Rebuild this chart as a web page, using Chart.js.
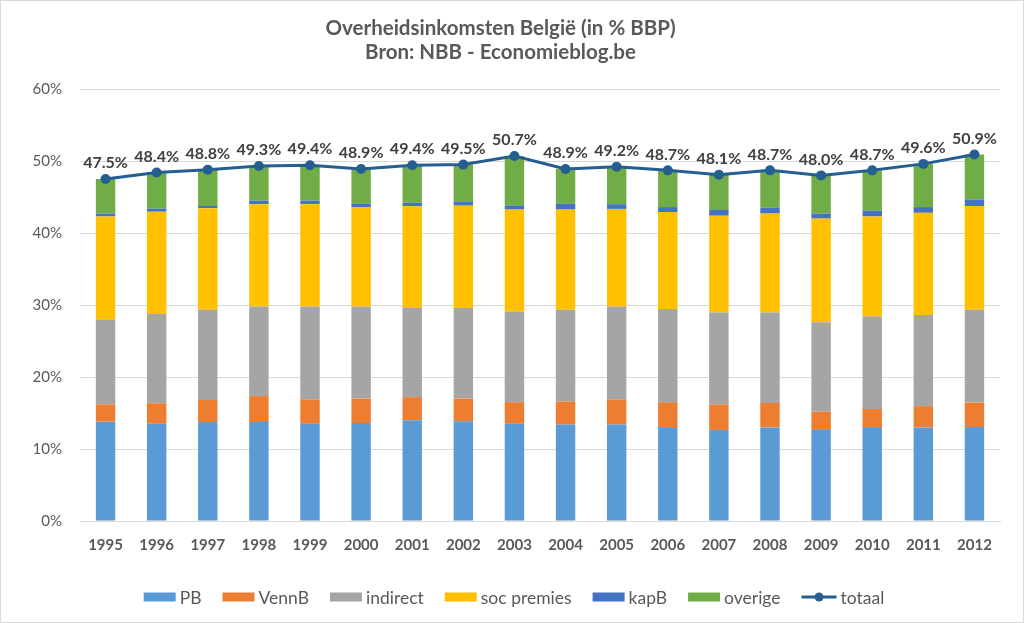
<!DOCTYPE html>
<html>
<head>
<meta charset="utf-8">
<script src="https://cdn.jsdelivr.net/npm/chart.js@4.4.1/dist/chart.umd.min.js"></script>
<style>
    html, body { margin: 0; padding: 0; background: #fff; }
    #wrap {
        position: relative;
        width: 1022px;
        height: 621px;
        border: 1px solid #d9d9d9;
    }
</style>
</head>
<body>
<div id="wrap"><canvas id="overheidChart" width="1022" height="621"></canvas></div>
<script>
// ========================================
// データ (% BBP)
// ========================================

const years = ['1995', '1996', '1997', '1998', '1999', '2000', '2001', '2002', '2003',
    '2004', '2005', '2006', '2007', '2008', '2009', '2010', '2011', '2012'];

const pb         = [13.8, 13.5, 13.75, 13.75, 13.5, 13.6, 14.0, 13.85, 13.5, 13.4, 13.4, 12.9, 12.65, 13.0, 12.65, 12.9, 13.0, 13.05];
const vennB      = [2.4, 2.85, 3.05, 3.6, 3.4, 3.4, 3.2, 3.15, 3.0, 3.2, 3.5, 3.6, 3.55, 3.4, 2.55, 2.65, 2.95, 3.4];
const indirect   = [11.8, 12.4, 12.55, 12.45, 12.9, 12.8, 12.4, 12.6, 12.6, 12.75, 12.9, 12.95, 12.75, 12.55, 12.4, 12.85, 12.65, 12.9];
const socPremies = [14.3, 14.2, 14.1, 14.2, 14.2, 13.8, 14.1, 14.2, 14.15, 13.9, 13.55, 13.45, 13.45, 13.75, 14.4, 13.9, 14.2, 14.4];
const kapB       = [0.4, 0.45, 0.3, 0.5, 0.5, 0.5, 0.5, 0.5, 0.55, 0.8, 0.65, 0.7, 0.8, 0.8, 0.7, 0.8, 0.8, 0.9];
const overige    = [4.8, 5.0, 5.05, 4.8, 4.9, 4.8, 5.2, 5.2, 6.9, 4.85, 5.2, 5.1, 4.9, 5.2, 5.3, 5.6, 6.0, 6.25];
const totaal     = [47.5, 48.4, 48.8, 49.3, 49.4, 48.9, 49.4, 49.5, 50.7, 48.9, 49.2, 48.7, 48.1, 48.7, 48.0, 48.7, 49.6, 50.9];

const yTicks = [0, 10, 20, 30, 40, 50, 60];

const FONT = 'Lato, "Open Sans", sans-serif';
const TEXT_GRAY = '#595959';

// ========================================
// プラグイン
// ========================================

// 折れ線のデータラベル
const totaalLabels = {
    id: 'totaalLabels',
    afterDatasetsDraw(chart) {
        const ctx = chart.ctx;
        chart.data.datasets.forEach((ds, i) => {
            if (ds.type !== 'line') return;
            const meta = chart.getDatasetMeta(i);
            ctx.save();
            ctx.font = 'bold 16px ' + FONT;
            ctx.fillStyle = '#404040';
            ctx.textAlign = 'center';
            ctx.textBaseline = 'middle';
            meta.data.forEach((pt, j) => {
                ctx.fillText(ds.data[j].toFixed(1) + '%', pt.x, pt.y - 16);
            });
            ctx.restore();
        });
    }
};

// 凡例 (Excel風)
const excelLegend = {
    id: 'excelLegend',
    afterDraw(chart) {
        const ctx = chart.ctx;
        const boxW = 32, boxH = 9, gap = 4, spacing = 21;
        const y = 596;
        ctx.save();
        ctx.font = '17.5px ' + FONT;
        ctx.textBaseline = 'middle';
        const items = chart.data.datasets.map(ds => ({
            label: ds.label,
            color: ds.type === 'line' ? ds.borderColor : ds.backgroundColor,
            line: ds.type === 'line',
            w: ctx.measureText(ds.label).width
        }));
        // 棒を先、折れ線を最後に
        items.sort((a, b) => (a.line ? 1 : 0) - (b.line ? 1 : 0));
        const markW = it => it.line ? 35 : boxW;
        let total = 0;
        items.forEach((it, k) => {
            total += markW(it) + gap + it.w + (k < items.length - 1 ? spacing : 0);
        });
        let x = chart.width / 2 - total / 2 + 2;
        items.forEach(it => {
            const mw = markW(it);
            if (it.line) {
                ctx.strokeStyle = it.color;
                ctx.lineWidth = 3;
                ctx.beginPath();
                ctx.moveTo(x, y);
                ctx.lineTo(x + mw, y);
                ctx.stroke();
                ctx.fillStyle = it.color;
                ctx.beginPath();
                ctx.arc(x + mw / 2, y, 4.5, 0, Math.PI * 2);
                ctx.fill();
            } else {
                ctx.fillStyle = it.color;
                ctx.fillRect(x, y - boxH / 2, mw, boxH);
            }
            ctx.fillStyle = TEXT_GRAY;
            ctx.textAlign = 'left';
            ctx.fillText(it.label, x + mw + gap, y + 1);
            x += mw + gap + it.w + spacing;
        });
        ctx.restore();
    }
};

// ========================================
// チャート
// ========================================

function barSet(label, data, color) {
    return {
        type: 'bar',
        label: label,
        data: data,
        backgroundColor: color,
        borderWidth: 0,
        stack: 'inkomsten',
        order: 1,
        barPercentage: 0.38,
        categoryPercentage: 1.0
    };
}

const ctx = document.getElementById('overheidChart').getContext('2d');

new Chart(ctx, {
    data: {
        labels: years,
        datasets: [
            barSet('PB', pb, '#5b9bd5'),
            barSet('VennB', vennB, '#ed7d31'),
            barSet('indirect', indirect, '#a5a5a5'),
            barSet('soc premies', socPremies, '#ffc000'),
            barSet('kapB', kapB, '#4472c4'),
            barSet('overige', overige, '#70ad47'),
            {
                type: 'line',
                label: 'totaal',
                data: totaal,
                borderColor: '#255e91',
                backgroundColor: '#255e91',
                borderWidth: 3,
                pointRadius: 5,
                pointBackgroundColor: '#255e91',
                pointBorderColor: '#255e91',
                pointBorderWidth: 0,
                tension: 0,
                stack: 'totaal',
                order: 0
            }
        ]
    },
    options: {
        responsive: false,
        animation: false,
        layout: {
            padding: { top: 0, left: 0, right: 23, bottom: 61 }
        },
        plugins: {
            legend: { display: false },
            tooltip: { enabled: false },
            title: {
                display: true,
                text: ['Overheidsinkomsten België (in % BBP)', 'Bron: NBB - Economieblog.be'],
                color: TEXT_GRAY,
                font: { family: FONT, size: 20.5, weight: 'bold', lineHeight: '24px' },
                padding: { top: 15, bottom: 25 }
            }
        },
        scales: {
            x: {
                stacked: true,
                grid: { display: false, drawTicks: false },
                border: { display: true, color: '#d9d9d9', width: 1 },
                ticks: {
                    color: TEXT_GRAY,
                    font: { family: FONT, size: 15, weight: 'bold' },
                    padding: 15,
                    maxRotation: 0
                },
                afterFit(scale) { scale.height = 40; }
            },
            y: {
                stacked: true,
                min: yTicks[0],
                max: yTicks[yTicks.length - 1],
                afterBuildTicks(scale) {
                    scale.ticks = yTicks.map(v => ({ value: v }));
                },
                grid: { color: '#d9d9d9', lineWidth: 1, drawTicks: false },
                border: { display: false },
                ticks: {
                    color: TEXT_GRAY,
                    font: { family: FONT, size: 15 },
                    padding: 18,
                    callback: value => value + '%'
                },
                afterFit(scale) { scale.width = 79; }
            }
        }
    },
    plugins: [totaalLabels, excelLegend]
});
</script>
</body>
</html>
